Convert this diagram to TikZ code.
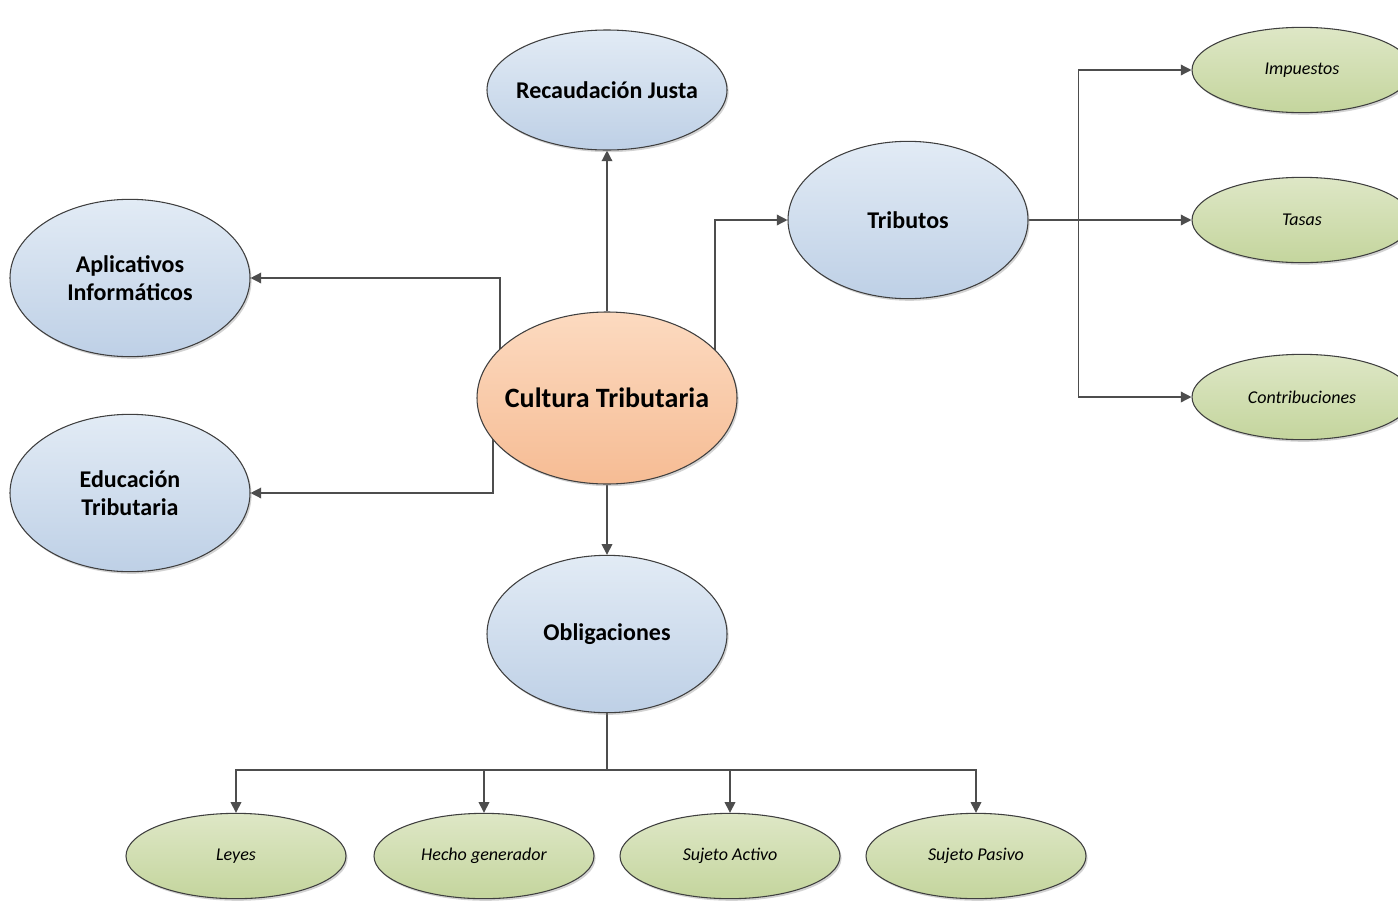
\documentclass[tikz,border=0pt]{standalone}
\usepackage{fontspec}
\setmainfont{Carlito}
\usetikzlibrary{shapes.geometric,arrows.meta,calc,backgrounds,shadows}

\definecolor{linegray}{HTML}{4D4D4D}
\definecolor{bordergray}{HTML}{3F3F3F}

\tikzstyle{every node}+=[inner ysep=0pt,inner xsep=-30pt,align=center]
\tikzstyle{bubble}=[ellipse,draw=bordergray,line width=0.8pt,
  drop shadow={opacity=0.35,shadow xshift=1.2pt,shadow yshift=-1.6pt}]
\tikzstyle{bluebub}=[bubble,top color={rgb,255:red,226;green,235;blue,245},bottom color={rgb,255:red,190;green,208;blue,230},
  minimum width=180pt,minimum height=118pt,font=\fontsize{18}{21}\selectfont\bfseries]
\tikzstyle{corebub}=[bubble,top color={rgb,255:red,252;green,218;blue,192},bottom color={rgb,255:red,246;green,188;blue,148},
  minimum width=195pt,minimum height=129pt,font=\fontsize{21}{24}\selectfont\bfseries]
\tikzstyle{leafbub}=[bubble,top color={rgb,255:red,222;green,231;blue,198},bottom color={rgb,255:red,196;green,213;blue,157},
  minimum width=165pt,minimum height=64pt,font=\fontsize{13.5}{15}\selectfont\itshape]
\tikzstyle{conn}=[draw=linegray,line width=1pt,-{Triangle[length=8pt,width=8pt]}]
\tikzstyle{plain}=[draw=linegray,line width=1pt]

\begin{document}
\begin{tikzpicture}[x=0.75pt,y=-0.75pt]

\clip (0,0) rectangle (1398,900);

% centre
\node[corebub] (cultura) at (607,398) {Cultura Tributaria};

% first ring
\node[bluebub,minimum height=90pt] (recaudacion) at (607,90) {Recaudación Justa};
\node[bluebub] (aplicativos) at (130,278) {Aplicativos\\Informáticos};
\node[bluebub] (educacion) at (130,493) {Educación\\Tributaria};
\node[bluebub] (tributos) at (908,220) {Tributos};
\node[bluebub] (obligaciones) at (607,634) {Obligaciones};

% tributos
\node[leafbub] (impuestos) at (1302,70) {Impuestos};
\node[leafbub] (tasas) at (1302,220) {Tasas};
\node[leafbub] (contribuciones) at (1302,397) {Contribuciones};

% obligaciones
\node[leafbub] (leyes) at (236,856) {Leyes};
\node[leafbub] (hecho) at (484,856) {Hecho generador};
\node[leafbub] (activo) at (730,856) {Sujeto Activo};
\node[leafbub] (pasivo) at (976,856) {Sujeto Pasivo};

\coordinate (tb) at ($(tributos.east)+(50,0)$);
\coordinate (ob) at (607,770);

\begin{scope}[on background layer]
\draw[conn] (cultura) -- (recaudacion);
\draw[conn] ($(cultura)+(-107,0)$) |- (aplicativos);
\draw[conn] ($(cultura)+(-114,0)$) |- (educacion);
\draw[conn] ($(cultura)+(108,0)$) |- (tributos);
\draw[conn] (cultura) -- (obligaciones);

\draw[conn] (tributos) -- (tasas);
\draw[conn] (tb) |- (impuestos);
\draw[conn] (tb) |- (contribuciones);

\draw[plain] (obligaciones) -- (ob);
\draw[conn] (ob) -| (leyes);
\draw[conn] (ob) -| (hecho);
\draw[conn] (ob) -| (activo);
\draw[conn] (ob) -| (pasivo);
\end{scope}
\end{tikzpicture}
\end{document}
